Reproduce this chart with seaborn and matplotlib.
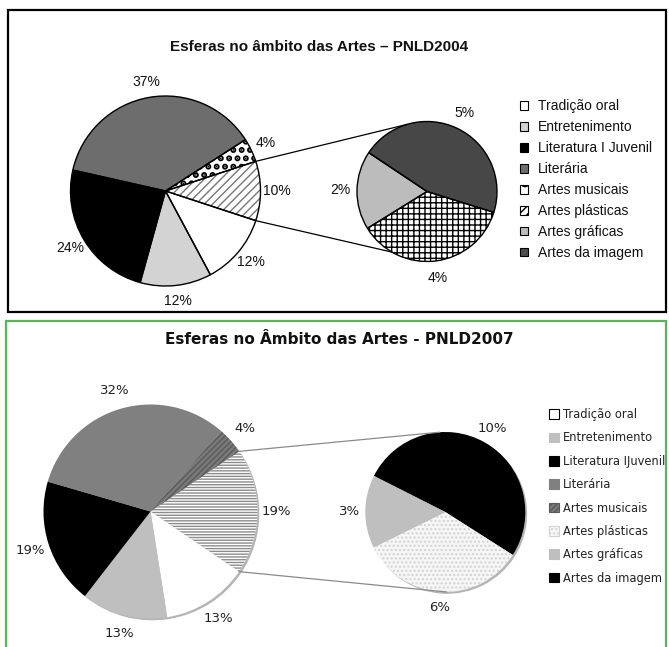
import numpy as np
import matplotlib
matplotlib.use("Agg")
import matplotlib.pyplot as plt
from matplotlib.patches import Patch, Rectangle
import seaborn as sns

sns.set_style("white")

# ---------------- data ----------------
legend_2004 = ["Tradição oral", "Entretenimento", "Literatura I Juvenil", "Literária",
               "Artes musicais", "Artes plásticas", "Artes gráficas", "Artes da imagem"]
legend_2007 = ["Tradição oral", "Entretenimento", "Literatura IJuvenil", "Literária",
               "Artes musicais", "Artes plásticas", "Artes gráficas", "Artes da imagem"]

# main pie, clockwise from the combined ("outros") slice
main_cats_2004 = ["Outros", "Tradição oral", "Entretenimento", "Literatura I Juvenil", "Literária", "Artes musicais"]
main_vals_2004 = [10, 12, 12, 24, 37, 4]
sub_cats_2004 = ["Artes da imagem", "Artes plásticas", "Artes gráficas"]
sub_vals_2004 = [5, 4, 2]

main_cats_2007 = ["Outros", "Tradição oral", "Entretenimento", "Literatura IJuvenil", "Literária", "Artes musicais"]
main_vals_2007 = [19, 13, 13, 19, 32, 4]
sub_cats_2007 = ["Artes da imagem", "Artes plásticas", "Artes gráficas"]
sub_vals_2007 = [9.8, 6.4, 2.8]

title_2004 = "Esferas no âmbito das Artes – PNLD2004"
title_2007 = "Esferas no Âmbito das Artes - PNLD2007"

# ---------------- styles ----------------
W, H = 669, 647
fig = plt.figure(figsize=(W / 100, H / 100), dpi=100)
ax = fig.add_axes([0, 0, 1, 1])

F04 = "Liberation Sans"
F07 = "DejaVu Sans"


def Y(y):
    return H - y


def draw_pie(vals, colors, hatches, hcols, center, r, start, labeldist, font, size,
             edge=None, lw=1.0, shadow=None, tcolor="#111111", hlw=None):
    labels = [f"{round(v)}%" for v in vals]
    wedges, texts = ax.pie(vals, colors=colors, startangle=start, counterclock=False,
                           center=center, radius=r, labels=labels, labeldistance=labeldist,
                           wedgeprops=dict(linewidth=0), frame=True, shadow=shadow,
                           textprops=dict(fontsize=size, family=font, color=tcolor))
    for i, (w, h, hc) in enumerate(zip(wedges, hatches, hcols)):
        if h:
            w.set_hatch(h)
            w.set_edgecolor(hc)
            if hlw and hlw[i] and hasattr(w, "set_hatch_linewidth"):
                w.set_hatch_linewidth(hlw[i])
    for t in texts:
        t.set_ha("center")
        t.set_va("center")
    if edge:
        ax.pie(vals, colors=["none"] * len(vals), startangle=start, counterclock=False,
               center=center, radius=r, frame=True,
               wedgeprops=dict(linewidth=lw, edgecolor=edge, fill=False))
    return wedges


def pt(center, r, ang):
    a = np.deg2rad(ang)
    return center[0] + r * np.cos(a), center[1] + r * np.sin(a)


# ---------------- 2004 panel ----------------
ax.add_patch(Rectangle((7.5, Y(312)), 658.5, 312 - 9.5, fill=False, edgecolor="black", lw=1.6))
ax.text(319.5, Y(46.7), title_2004, ha="center", va="center", fontsize=11,
        fontweight="bold", family=F04, color="#111111")

c1, r1 = (165.5, Y(191)), 95
c2, r2 = (427, Y(191.5)), 70
cols_m04 = ["white", "white", "#d3d3d3", "black", "#6d6d6d", "white"]
hat_m04 = ["////", None, None, None, None, ".."]
hc_m04 = ["#777777", None, None, None, None, "black"]
hlw_m04 = [None, None, None, None, None, 3.0]
w_m = draw_pie(main_vals_2004, cols_m04, hat_m04, hc_m04, c1, r1,
               main_vals_2004[0] / sum(main_vals_2004) * 180, 1.17, F04, 10,
               edge="black", lw=1.0, hlw=hlw_m04)
cols_s04 = ["#474747", "white", "#bcbcbd"]
hat_s04 = [None, "+++", None]
hc_s04 = [None, "black", None]
draw_pie(sub_vals_2004, cols_s04, hat_s04, hc_s04, c2, r2, 146.3, 1.24, F04, 10, edge="black", lw=1.0)

p_top = pt(c1, r1, w_m[0].theta2)
p_bot = pt(c1, r1, w_m[0].theta1)
q_top = pt(c2, r2, 106.5)
q_bot = pt(c2, r2, -120)
ax.plot([p_top[0], q_top[0]], [p_top[1], q_top[1]], color="black", lw=0.9)
ax.plot([p_bot[0], q_bot[0]], [p_bot[1], q_bot[1]], color="black", lw=0.9)

leg_cols04 = ["white", "#d3d3d3", "black", "#6d6d6d", "white", "white", "#bcbcbd", "#4d4d4d"]
leg_hat04 = [None, None, None, None, "o", "////", None, None]
h04 = [Patch(facecolor=c, edgecolor="black", hatch=h, lw=0.8) for c, h in zip(leg_cols04, leg_hat04)]
lg1 = ax.legend(h04, legend_2004, loc="upper left", bbox_to_anchor=(519.5, Y(99.3)),
                bbox_transform=ax.transData, frameon=False, borderpad=0, borderaxespad=0,
                handlelength=0.6, handleheight=0.6, handletextpad=0.75, labelspacing=0.5,
                prop=dict(family=F04, size=10))
for t in lg1.get_texts():
    t.set_color("#111111")
ax.add_artist(lg1)

# ---------------- 2007 panel ----------------
GREEN = "#58b55c"
ax.add_patch(Rectangle((5.7, -10), 660.3, Y(320.7) + 10, fill=False, edgecolor=GREEN, lw=1.6))
ax.text(339.5, Y(339), title_2007, ha="center", va="center", fontsize=11,
        fontweight="bold", family=F07, color="#111111")

c3, r3 = (150.5, Y(511.5)), 107
c4, r4 = (445.3, Y(512)), 80
shadow = dict(ox=1.3, oy=-1.3, facecolor="#b5b5b5", edgecolor="#b5b5b5", alpha=1)
cols_m07 = ["white", "white", "#bfbfbf", "black", "#808080", "#7a7a7a"]
hat_m07 = ["------", None, None, None, None, "//////"]
hc_m07 = ["#8c8c8c", None, None, None, None, "#5a5a5a"]
w_m7 = draw_pie(main_vals_2007, cols_m07, hat_m07, hc_m07, c3, r3,
                main_vals_2007[0] / sum(main_vals_2007) * 180, 1.18, F07, 9.5,
                shadow=shadow, tcolor="#222222")
cols_s07 = ["black", "#f6f6f6", "#bfbfbf"]
hat_s07 = [None, "....", None]
hc_s07 = [None, "#d2d2d2", None]
draw_pie(sub_vals_2007, cols_s07, hat_s07, hc_s07, c4, r4, 153.2, 1.2, F07, 9.5,
         shadow=shadow, tcolor="#222222")

p_top = pt(c3, r3, w_m7[0].theta2)
p_bot = pt(c3, r3, w_m7[0].theta1)
q_top = pt(c4, r4, 94)
q_bot = pt(c4, r4, -89)
ax.plot([p_top[0], q_top[0]], [p_top[1], q_top[1]], color="#8a8a8a", lw=0.9)
ax.plot([p_bot[0], q_bot[0]], [p_bot[1], q_bot[1]], color="#8a8a8a", lw=0.9)

leg_cols07 = ["white", "#bfbfbf", "black", "#808080", "#7a7a7a", "#f6f6f6", "#bfbfbf", "black"]
leg_hat07 = [None, None, None, None, "//////", "....", None, None]
leg_ec07 = ["black", "#bfbfbf", "black", "#808080", "#5a5a5a", "#d2d2d2", "#bfbfbf", "black"]
h07 = [Patch(facecolor=c, edgecolor=e, hatch=h, lw=0.8) for c, h, e in zip(leg_cols07, leg_hat07, leg_ec07)]
lg2 = ax.legend(h07, legend_2007, loc="upper left", bbox_to_anchor=(549, Y(408)),
                bbox_transform=ax.transData, frameon=False, borderpad=0, borderaxespad=0,
                handlelength=0.9, handleheight=0.9, handletextpad=0.3, labelspacing=0.9,
                prop=dict(family=F07, size=8.3))
for t in lg2.get_texts():
    t.set_color("#222222")

ax.set_xlim(0, W)
ax.set_ylim(0, H)
ax.set_aspect("equal")
ax.axis("off")

fig.savefig("out.png", dpi=100)
